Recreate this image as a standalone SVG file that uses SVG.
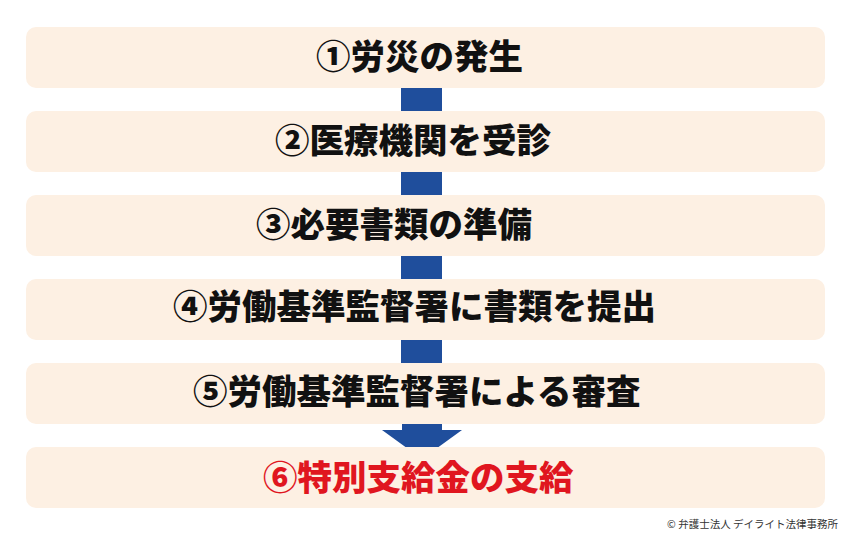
<svg xmlns="http://www.w3.org/2000/svg" width="850" height="538" viewBox="0 0 850 538">
  <style>
    .box { fill: #fdf0e3; }
    .lbl { font-family: "Noto Sans CJK JP", "Noto Sans", sans-serif; font-size: 34.5px; font-weight: 900; fill: #111111; }
    .red { fill: #e0161f; }
    .conn { fill: #1f4e9c; }
    .copy { font-family: "Noto Sans CJK JP", "Noto Sans", sans-serif; font-size: 10.5px; font-weight: 400; fill: #333333; }
  </style>
  <rect x="0" y="0" width="850" height="538" fill="#ffffff"/>
  <g id="connectors">
    <rect class="conn" x="401" y="88" width="41" height="23"/>
    <rect class="conn" x="401" y="172" width="41" height="23"/>
    <rect class="conn" x="401" y="256" width="41" height="23"/>
    <rect class="conn" x="401" y="340" width="41" height="23"/>
    <polygon class="conn" points="402,424 442,424 442,430 462,430 422,459 382,430 402,430"/>
  </g>
  <g id="node1">
    <rect class="box" x="26" y="27" width="799" height="61" rx="10"/>
    <text class="lbl" x="316" y="69">①労災の発生</text>
  </g>
  <g id="node2">
    <rect class="box" x="26" y="111" width="799" height="61" rx="10"/>
    <text class="lbl" x="275" y="153">②医療機関を受診</text>
  </g>
  <g id="node3">
    <rect class="box" x="26" y="195" width="799" height="61" rx="10"/>
    <text class="lbl" x="256" y="237">③必要書類の準備</text>
  </g>
  <g id="node4">
    <rect class="box" x="26" y="279" width="799" height="61" rx="10"/>
    <text class="lbl" x="173" y="319">④労働基準監督署に書類を提出</text>
  </g>
  <g id="node5">
    <rect class="box" x="26" y="363" width="799" height="61" rx="10"/>
    <text class="lbl" x="193" y="404">⑤労働基準監督署による審査</text>
  </g>
  <g id="node6">
    <rect class="box" x="26" y="447" width="799" height="61" rx="10"/>
    <text class="lbl red" x="263" y="490">⑥特別支給金の支給</text>
  </g>
  <text class="copy" x="838" y="528" text-anchor="end">© 弁護士法人 デイライト法律事務所</text>
</svg>
